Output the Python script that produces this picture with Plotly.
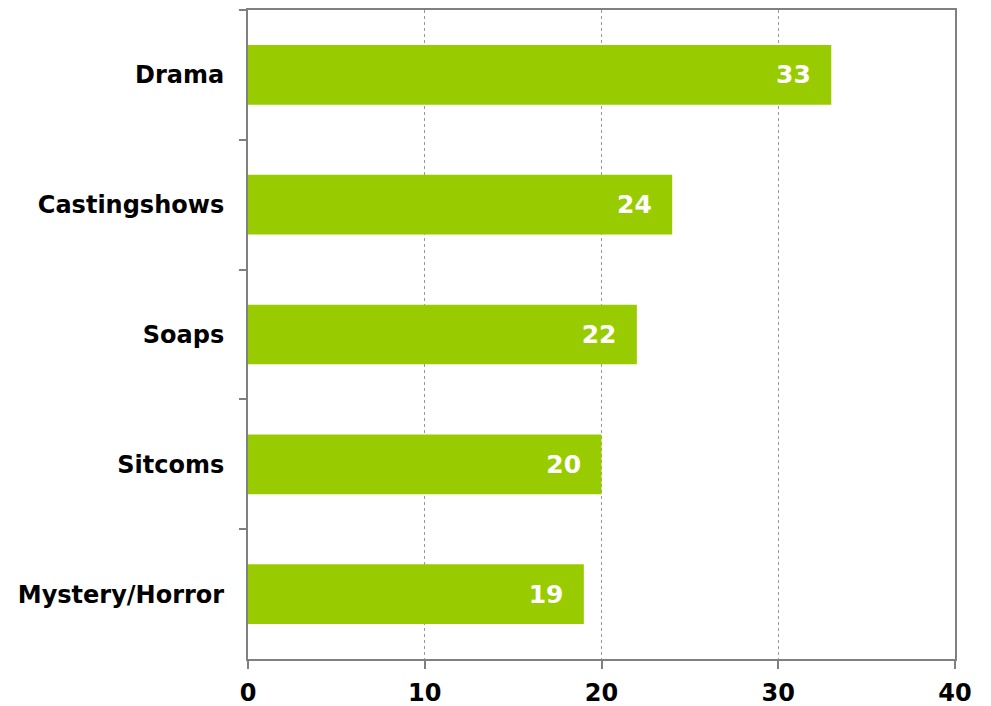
import plotly.graph_objects as go

categories = ["Drama", "Castingshows", "Soaps", "Sitcoms", "Mystery/Horror"]
values = [33, 24, 22, 20, 19]
x_ticks = [0, 10, 20, 30, 40]

fig = go.Figure(go.Bar(
    y=categories, x=values, orientation="h",
    marker=dict(color="#99CC00", line=dict(width=0)),
    texttemplate="%{x}\u00a0\u00a0", textposition="inside", insidetextanchor="end",
    textfont=dict(family="DejaVu Sans", size=25, color="white", weight="bold"),
    width=0.46,
))

fig.update_layout(
    width=991, height=706,
    margin=dict(l=248, r=36, t=10, b=47),
    paper_bgcolor="white", plot_bgcolor="white",
    showlegend=False,
    font=dict(family="DejaVu Sans", color="black"),
)
fig.update_xaxes(
    range=[0, 40], tickvals=x_ticks, ticktext=[str(t) for t in x_ticks],
    showgrid=True, gridcolor="#999999", griddash="dot", gridwidth=1,
    showline=True, linecolor="#808080", linewidth=2, mirror=True,
    ticks="outside", ticklen=8, tickcolor="#808080", tickwidth=2,
    tickfont=dict(family="DejaVu Sans", size=24, color="black", weight="bold"),
    ticklabelstandoff=3, zeroline=False, automargin=False,
)
fig.update_yaxes(
    autorange="reversed", tickson="boundaries",
    showgrid=False,
    showline=True, linecolor="#808080", linewidth=2, mirror=True,
    ticks="outside", ticklen=7, tickcolor="#808080", tickwidth=2,
    tickfont=dict(family="DejaVu Sans", size=24, color="black", weight="bold"),
    ticklabelstandoff=17, automargin=False,
)

fig.write_html(
    "out.html",
    config={"displayModeBar": False},
    post_script="document.body.style.margin='0';document.body.style.overflow='hidden';",
)
